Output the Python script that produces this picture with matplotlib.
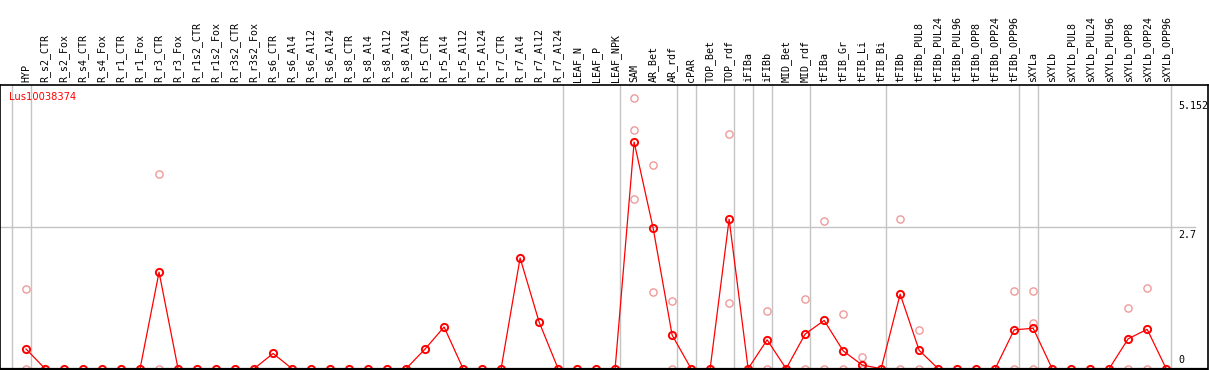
#!/usr/bin/env python3
"""Expression profile of Lus10038374 across tissues / treatments."""

import matplotlib
matplotlib.use("Agg")
import matplotlib.pyplot as plt
import matplotlib.transforms as mtransforms

categories = [
    "HYP",
    "R_s2_CTR", "R_s2_Fox", "R_s4_CTR", "R_s4_Fox", "R_r1_CTR", "R_r1_Fox",
    "R_r3_CTR", "R_r3_Fox", "R_r1s2_CTR", "R_r1s2_Fox", "R_r3s2_CTR", "R_r3s2_Fox",
    "R_s6_CTR", "R_s6_Al4", "R_s6_Al12", "R_s6_Al24",
    "R_s8_CTR", "R_s8_Al4", "R_s8_Al12", "R_s8_Al24",
    "R_r5_CTR", "R_r5_Al4", "R_r5_Al12", "R_r5_Al24",
    "R_r7_CTR", "R_r7_Al4", "R_r7_Al12", "R_r7_Al24",
    "LEAF_N", "LEAF_P", "LEAF_NPK",
    "SAM", "AR_Bet", "AR_rdf",
    "cPAR",
    "TOP_Bet", "TOP_rdf",
    "iFIBa",
    "iFIBb",
    "MID_Bet", "MID_rdf",
    "tFIBa", "tFIB_Gr", "tFIB_Li", "tFIB_Bi",
    "tFIBb", "tFIBb_PUL8", "tFIBb_PUL24", "tFIBb_PUL96",
    "tFIBb_OPP8", "tFIBb_OPP24", "tFIBb_OPP96",
    "sXYLa",
    "sXYLb", "sXYLb_PUL8", "sXYLb_PUL24", "sXYLb_PUL96",
    "sXYLb_OPP8", "sXYLb_OPP24", "sXYLb_OPP96",
]

# number of categories in each group (grey separators after each group)
group_sizes = [1, 28, 3, 3, 1, 2, 1, 1, 2, 4, 7, 1, 7]

# mean expression per category
means = [
    0.375,
    0, 0, 0, 0, 0, 0, 1.84, 0, 0, 0, 0, 0,
    0.29, 0, 0, 0,
    0, 0, 0, 0,
    0.375, 0.795, 0, 0,
    0, 2.11, 0.89, 0,
    0, 0, 0,
    4.32, 2.68, 0.64,
    0,
    0, 2.85,
    0,
    0.55,
    0, 0.66,
    0.92, 0.34, 0.07, 0,
    1.42, 0.35, 0, 0, 0, 0, 0.74,
    0.77,
    0, 0, 0, 0, 0.57, 0.75, 0,
]

# replicate values (only the ones that differ from the mean are visible)
replicates = {
    "HYP": [1.51, 0],
    "R_r3_CTR": [3.71, 0],
    "SAM": [5.152, 4.54, 3.23],
    "AR_Bet": [3.88, 1.46],
    "AR_rdf": [1.29, 0],
    "TOP_rdf": [4.47, 1.25],
    "iFIBb": [1.10, 0],
    "MID_rdf": [1.32, 0],
    "tFIBa": [2.81, 0],
    "tFIB_Gr": [1.04, 0],
    "tFIB_Li": [0.22, 0],
    "tFIBb": [2.85, 0],
    "tFIBb_PUL8": [0.73, 0],
    "tFIBb_OPP96": [1.48, 0],
    "sXYLa": [1.48, 0.88, 0],
    "sXYLb_OPP8": [1.15, 0],
    "sXYLb_OPP24": [1.53, 0],
}

y_ticks = [5.152, 2.7, 0]
gene = "Lus10038374"


def main() -> int:
    W, H = 1209, 370
    fig = plt.figure(figsize=(W / 100, H / 100), dpi=100)
    ax = fig.add_axes([0, 0, 1208 / W, 285 / H])

    xs = list(range(len(categories)))
    ax.set_xlim(-1.37, 62.2)
    ax.set_ylim(-0.025, 5.406)

    # grey separators
    ax.axvline(-0.75, color="#c4c4c4", lw=1.0, zorder=1)
    pos = -1
    for n in group_sizes:
        pos += n
        ax.axvline(pos + 0.25, color="#c4c4c4", lw=1.0, zorder=1)
    ax.axhline(2.7, xmax=1195 / 1208, color="#c4c4c4", lw=1.0, zorder=1)

    # replicates
    rx, ry = [], []
    for name, vals in replicates.items():
        i = categories.index(name)
        for v in vals:
            rx.append(i)
            ry.append(v)
    ax.plot(rx, ry, linestyle="none", marker="o", markersize=5.2,
            markerfacecolor="none", markeredgecolor="#ef9a9a",
            markeredgewidth=1.0, zorder=2)

    # means
    ax.plot(xs, means, color="#ff0000", lw=0.9, marker="o", markersize=5.2,
            markerfacecolor="none", markeredgecolor="#ff0000",
            markeredgewidth=1.4, zorder=3)

    ax.axhline(0, color="black", lw=1.6, zorder=4)

    # category labels on top
    ax.xaxis.tick_top()
    ax.set_xticks(xs)
    ax.set_xticklabels(categories, rotation=90, fontfamily="DejaVu Sans Mono",
                       fontsize=7.2)
    ax.tick_params(axis="x", length=0, pad=2)
    ax.set_yticks([])

    for s in ("top", "left", "right"):
        ax.spines[s].set_color("black")
        ax.spines[s].set_linewidth(1.2)
    ax.spines["bottom"].set_visible(False)

    trans = mtransforms.blended_transform_factory(ax.transAxes, ax.transData)
    for v in y_ticks:
        va = "bottom" if v == 0 else "top"
        off = 3 if v == 0 else -2
        ax.annotate(f"{v:g}", xy=(1178 / 1208, v), xycoords=trans,
                    xytext=(0, off), textcoords="offset points",
                    ha="left", va=va, fontfamily="DejaVu Sans Mono",
                    fontsize=7.2, color="black")

    ax.text(9 / 1208, 1 - 12 / 285, gene, transform=ax.transAxes,
            color="#ff0000", fontsize=7.1, ha="left", va="center")

    fig.savefig("out.png", dpi=100)
    plt.close(fig)
    return 0


if __name__ == "__main__":
    raise SystemExit(main())
